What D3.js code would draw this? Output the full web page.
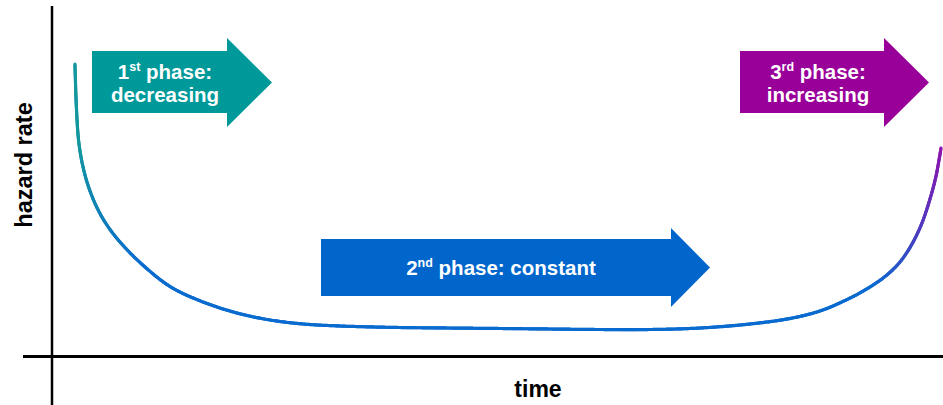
<!DOCTYPE html>
<html>
<head>
<meta charset="utf-8">
<script src="https://cdn.jsdelivr.net/npm/d3@7"></script>
<style>
  html, body { margin: 0; padding: 0; background: #ffffff; }
  svg { display: block; }
  text { font-family: "Liberation Sans", Arial, sans-serif; font-weight: bold; }
</style>
</head>
<body>
<svg id="chart" width="943" height="405"></svg>
<script>
// Bathtub curve: hazard rate over time (both on a 0–100 relative scale)
const time   = [2.58, 2.75, 3.03, 3.60, 4.38, 5.39, 6.52, 7.64, 9.89, 13.26, 16.97, 20.79, 24.49, 28.20,
                32.36, 39.10, 44.72, 50.34, 55.96, 61.57, 67.19, 72.81, 78.43, 82.92, 86.29, 89.10,
                91.35, 93.60, 95.28, 96.63, 97.75, 98.65, 99.33, 99.89];
const hazard = [97.33, 82.40, 70.73, 61.57, 54.10, 47.50, 42.17, 38.00, 31.17, 23.17, 18.00, 14.33, 12.00, 10.67,
                10.00, 9.50, 9.33, 9.17, 9.00, 8.83, 8.83, 9.33, 10.67, 12.50, 15.00, 18.50,
                22.00, 26.50, 31.33, 37.33, 44.33, 52.33, 60.00, 69.33];

// Phase annotations
const phaseNumbers = ["1", "2", "3"];
const phaseOrdinals = ["st", "nd", "rd"];
const phaseWords = ["decreasing", "constant", "increasing"];
const phaseColors = ["#009999", "#0066cc", "#990099"];

const axisTitleX = "time";
const axisTitleY = "hazard rate";

const svg = d3.select("#chart");

const x = d3.scaleLinear().domain([0, 100]).range([52, 942]);
const y = d3.scaleLinear().domain([0, 100]).range([356, 56]);

// Axes: plain lines with no ticks
svg.append("line")
  .attr("x1", x(0)).attr("x2", x(0))
  .attr("y1", 6).attr("y2", 405)
  .attr("stroke", "#000").attr("stroke-width", 2.5);
svg.append("line")
  .attr("x1", 23).attr("x2", 943)
  .attr("y1", y(0) + 0.5).attr("y2", y(0) + 0.5)
  .attr("stroke", "#000").attr("stroke-width", 3);

svg.append("text")
  .attr("x", 538).attr("y", 397)
  .attr("text-anchor", "middle")
  .attr("font-size", 23)
  .attr("fill", "#000")
  .text(axisTitleX);

svg.append("text")
  .attr("transform", "translate(32,165) rotate(-90)")
  .attr("text-anchor", "middle")
  .attr("font-size", 23.5)
  .attr("fill", "#000")
  .text(axisTitleY);

// Arrow shapes
function arrowPath(x0, xh, xt, bodyTop, bodyBot, headTop, headBot) {
  const ym = (headTop + headBot) / 2;
  return `M${x0},${bodyTop}L${xh},${bodyTop}L${xh},${headTop}L${xt},${ym}` +
         `L${xh},${headBot}L${xh},${bodyBot}L${x0},${bodyBot}Z`;
}

const arrows = [
  { d: arrowPath(92, 227, 272, 51, 113, 38, 127), cx: 165, lines: [79, 102] },
  { d: arrowPath(321, 671, 710, 239, 296, 228, 307), cx: 501, lines: [275] },
  { d: arrowPath(740, 884, 929, 51, 113, 38, 127), cx: 818, lines: [79, 102] }
];

arrows.forEach((a, i) => {
  svg.append("path").attr("d", a.d).attr("fill", phaseColors[i]);
  const t = svg.append("text")
    .attr("x", a.cx).attr("y", a.lines[0])
    .attr("text-anchor", "middle")
    .attr("font-size", 20.5)
    .attr("fill", "#fff");
  t.append("tspan").text(phaseNumbers[i]);
  t.append("tspan").attr("font-size", 12.5).attr("dy", -8).text(phaseOrdinals[i]);
  if (a.lines.length > 1) {
    t.append("tspan").attr("dy", 8).text(" phase:");
    svg.append("text")
      .attr("x", a.cx).attr("y", a.lines[1])
      .attr("text-anchor", "middle")
      .attr("font-size", 20.5)
      .attr("fill", "#fff")
      .text(phaseWords[i]);
  } else {
    t.append("tspan").attr("dy", 8).text(" phase: " + phaseWords[i]);
  }
});

// Hazard curve, coloured along its length
const pts = time.map((t, i) => [x(t), y(hazard[i])]);
const line = d3.line().curve(d3.curveCatmullRom.alpha(0.5));
const guide = svg.append("path")
  .attr("d", line(pts))
  .attr("fill", "none")
  .attr("stroke", "none");

const total = guide.node().getTotalLength();
const colour = d3.scaleLinear()
  .domain([0, 0.07, 0.2, 0.86, 0.93, 1])
  .range(["#14979f", "#14979f", "#0a6bcf", "#0a6bcf", "#5238bf", "#8c16ad"])
  .interpolate(d3.interpolateRgb);

const steps = Math.ceil(total / 1.5);
const segs = d3.range(steps).map(i => {
  const a = guide.node().getPointAtLength(i * total / steps);
  const b = guide.node().getPointAtLength((i + 1) * total / steps);
  return { a, b, f: (i + 0.5) / steps };
});

svg.append("g")
  .selectAll("line")
  .data(segs)
  .join("line")
  .attr("x1", d => d.a.x).attr("y1", d => d.a.y)
  .attr("x2", d => d.b.x).attr("y2", d => d.b.y)
  .attr("stroke", d => colour(d.f))
  .attr("stroke-width", 3.2)
  .attr("stroke-linecap", "round");
</script>
</body>
</html>
